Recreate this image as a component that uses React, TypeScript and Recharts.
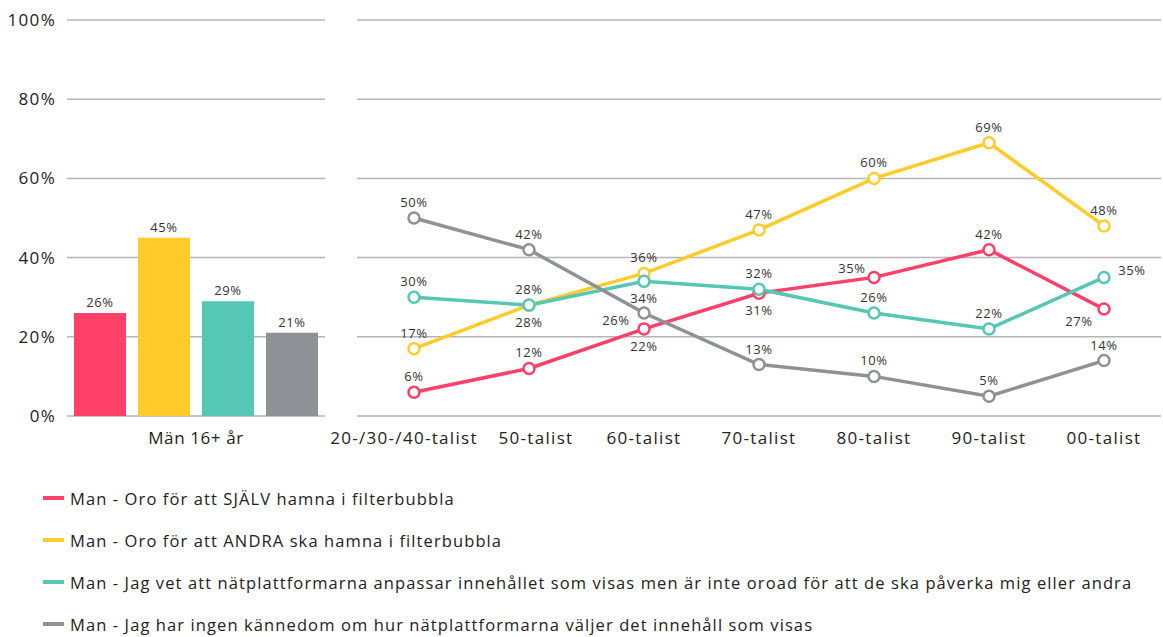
import React from "react";
import {
  BarChart, Bar, LineChart, Line, XAxis, YAxis, CartesianGrid, LabelList,
} from "recharts";

const seriesNames = [
  "Man - Oro för att SJÄLV hamna i filterbubbla",
  "Man - Oro för att ANDRA ska hamna i filterbubbla",
  "Man - Jag vet att nätplattformarna anpassar innehållet som visas men är inte oroad för att de ska påverka mig eller andra",
  "Man - Jag har ingen kännedom om hur nätplattformarna väljer det innehåll som visas",
];
const seriesKeys = ["sjalv", "andra", "vet", "ingen"];
const colors = ["#FF4069", "#FFCC2B", "#55C7B4", "#8E9196"];

const totalCategory = ["Män 16+ år"];
const totalValues = [26, 45, 29, 21];

const generations = [
  "20-/30-/40-talist", "50-talist", "60-talist", "70-talist", "80-talist", "90-talist", "00-talist",
];
const sjalv = [6, 12, 22, 31, 35, 42, 27];
const andra = [17, 28, 36, 47, 60, 69, 48];
const vet = [30, 28, 34, 32, 26, 22, 35];
const ingen = [50, 42, 26, 13, 10, 5, 14];

const yTicks = [0, 20, 40, 60, 80, 100];

// label placement per point (style config)
const labelPlacement: Record<string, string[]> = {
  sjalv: ["top", "top", "bottom", "bottom", "leftUp", "top", "leftDown"],
  andra: ["top", "bottom", "top", "top", "top", "top", "top"],
  vet: ["top", "top", "bottom", "top", "top", "top", "rightUp"],
  ingen: ["top", "top", "left", "top", "top", "top", "top"],
};
const offsets: Record<string, [number, number]> = {
  top: [0, -16],
  bottom: [0, 17],
  left: [-28, 7],
  leftUp: [-22, -9],
  leftDown: [-25, 12],
  rightUp: [28, -7],
};
// horizontal nudge of category labels (style config, avoids overlap)
const tickNudge = [-10, 7, 0, 0, 0, 0, 0];

const barData = totalCategory.map((c) => {
  const row: any = { name: c };
  seriesKeys.forEach((k, i) => (row[k] = totalValues[i]));
  return row;
});
const lineSeries: Record<string, number[]> = { sjalv, andra, vet, ingen };
const lineData = generations.map((g, i) => {
  const row: any = { name: g };
  seriesKeys.forEach((k) => (row[k] = lineSeries[k][i]));
  return row;
});

const FONT = "'Open Sans', 'DejaVu Sans', sans-serif";
const tickStyle = { fill: "#222", fontSize: 17, fontFamily: FONT, letterSpacing: 1.3 };
const GRID = "#b3b5b9";

const makeLabel = (key: string) => (props: any) => {
  const { x, y, value, index } = props;
  const [dx, dy] = offsets[labelPlacement[key][index]];
  return (
    <text x={x + dx} y={y + dy} textAnchor="middle" dominantBaseline="central"
      fontSize={13} fontFamily={FONT} letterSpacing={0.6} fill="#333">{value}%</text>
  );
};

const GenTick = (props: any) => {
  const { x, y, payload, index } = props;
  return (
    <text x={x + (tickNudge[index] || 0)} y={y} dy="0.71em" textAnchor="middle"
      fontSize={17} fontFamily={FONT} letterSpacing={1.3} fill="#222">{payload.value}</text>
  );
};

export default function App() {
  return (
    <div style={{ position: "absolute", left: 0, top: 0, width: 1163, height: 637, background: "#fff", fontFamily: FONT }}>
      <div style={{ position: "absolute", left: 0, top: 0 }}>
        <BarChart width={325} height={460} data={barData}
          margin={{ top: 20, right: 0, bottom: 14, left: 0 }} barGap={12} barSize={52}>
          <CartesianGrid vertical={false} stroke={GRID} strokeWidth={1.5} />
          <XAxis dataKey="name" axisLine={false} tickLine={false}
            tick={{ ...tickStyle, letterSpacing: 0.6 }} tickMargin={10} />
          <YAxis width={67} domain={[0, 100]} ticks={yTicks} axisLine={false} tickLine={false}
            tick={tickStyle} tickMargin={5} tickFormatter={(v) => `${v}%`} interval={0} />
          {seriesKeys.map((k, i) => (
            <Bar key={k} dataKey={k} fill={colors[i]} isAnimationActive={false}>
              <LabelList dataKey={k} position="top" offset={6}
                formatter={(v: any) => `${v}%`}
                style={{ fontSize: 13, fontFamily: FONT, fill: "#333", letterSpacing: 0.6 }} />
            </Bar>
          ))}
        </BarChart>
      </div>
      <div style={{ position: "absolute", left: 325, top: 0 }}>
        <LineChart width={838} height={460} data={lineData}
          margin={{ top: 20, right: 2, bottom: 14, left: 32 }}>
          <CartesianGrid vertical={false} stroke={GRID} strokeWidth={1.5} />
          <XAxis dataKey="name" axisLine={false} tickLine={false} tick={<GenTick />} tickMargin={10}
            padding={{ left: 57, right: 57 }} interval={0} />
          <YAxis hide domain={[0, 100]} ticks={yTicks} />
          {seriesKeys.map((k, i) => (
            <Line key={k} dataKey={k} stroke={colors[i]} strokeWidth={3.5} isAnimationActive={false}
              dot={{ r: 5.5, fill: "#fff", stroke: colors[i], strokeWidth: 2.5 }}>
              <LabelList dataKey={k} content={makeLabel(k)} />
            </Line>
          ))}
        </LineChart>
      </div>
      <div style={{ position: "absolute", left: 43, top: 477 }}>
        {seriesNames.map((n, i) => (
          <div key={n} style={{ display: "flex", alignItems: "center", height: 42 }}>
            <div style={{ width: 21, height: 4, background: colors[i], marginRight: 6 }} />
            <span style={{ fontSize: 16.5, color: "#222", whiteSpace: "nowrap", letterSpacing: 1.1 }}>{n}</span>
          </div>
        ))}
      </div>
    </div>
  );
}
